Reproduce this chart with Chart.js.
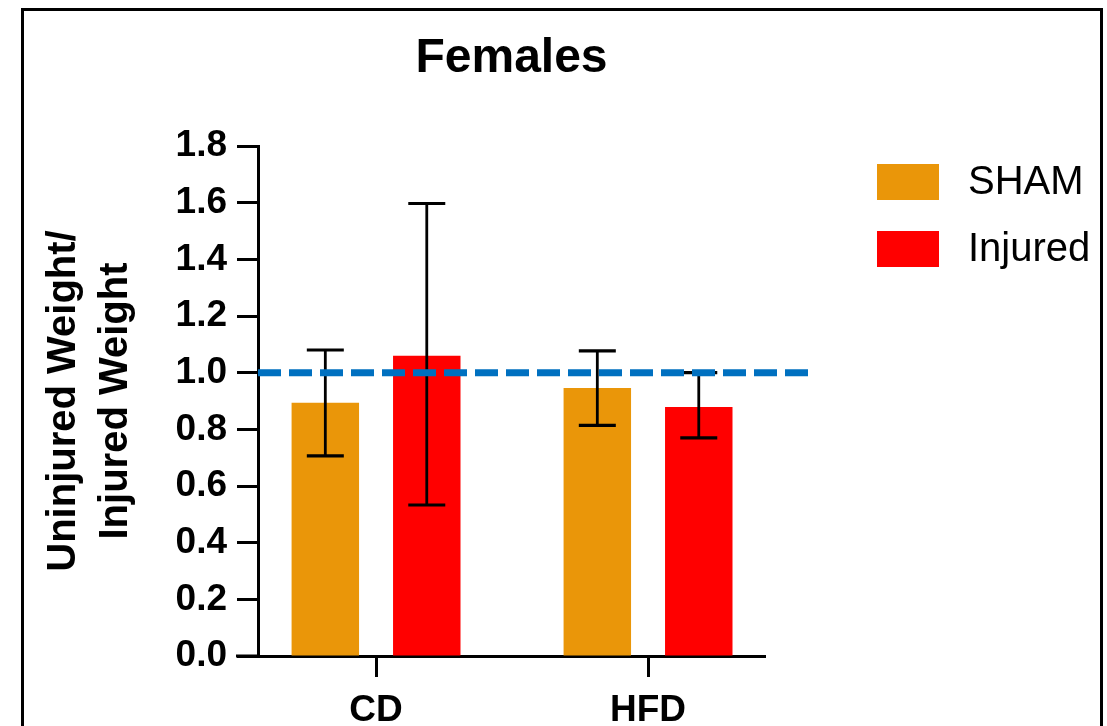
<!DOCTYPE html>
<html><head><meta charset="utf-8">
<script src="https://cdn.jsdelivr.net/npm/chart.js@4.4.1/dist/chart.umd.min.js"></script>
<style>
html,body{margin:0;padding:0;background:#fff;overflow:hidden;}
#wrap{position:relative;width:1107px;height:726px;}
#frame{position:absolute;left:21px;top:8px;width:1082px;height:800px;border:3px solid #000;box-sizing:border-box;pointer-events:none;}
canvas{display:block;}
</style></head><body>
<div id="wrap"><canvas id="c" width="1107" height="726"></canvas><div id="frame"></div></div>
<script>
// ---- data ----
const categories = ['CD', 'HFD'];
const seriesNames = ['SHAM', 'Injured'];
const shamMean = [0.894, 0.946];
const shamLow = [0.706, 0.814];
const shamHigh = [1.080, 1.077];
const injuredMean = [1.060, 0.879];
const injuredLow = [0.533, 0.770];
const injuredHigh = [1.597, 1.000];
const refLevel = 1.0;
const refLineRange = [0.566, 2.603];
const yMin = 0, yMax = 1.8, yStep = 0.2;
const xRange = [0.566, 2.430];
const titleText = 'Females';
const yTitle = ['Uninjured Weight/', 'Injured Weight'];

const FONT = 'Liberation Sans, Arial, Helvetica, sans-serif';
Chart.defaults.font.family = FONT;
Chart.defaults.color = '#000';

const errorBars = {
  id: 'errorBars',
  afterDatasetDraw(chart, args, opts) {
    const ds = chart.data.datasets[args.index];
    if (!ds.errLow) return;
    const ys = chart.scales.y, ctx = chart.ctx;
    ctx.save();
    ctx.strokeStyle = '#000';
    args.meta.data.forEach((bar, i) => {
      const x = bar.x;
      const yl = ys.getPixelForValue(ds.errLow[i]);
      const yh = ys.getPixelForValue(ds.errHigh[i]);
      ctx.lineWidth = opts.lineWidth;
      ctx.beginPath(); ctx.moveTo(x, yl); ctx.lineTo(x, yh); ctx.stroke();
      ctx.lineWidth = opts.capLineWidth;
      ctx.beginPath();
      ctx.moveTo(x - opts.capWidth / 2, yl); ctx.lineTo(x + opts.capWidth / 2, yl);
      ctx.moveTo(x - opts.capWidth / 2, yh); ctx.lineTo(x + opts.capWidth / 2, yh);
      ctx.stroke();
    });
    ctx.restore();
  }
};

const customLegend = {
  id: 'customLegend',
  afterDraw(chart, args, opts) {
    const ctx = chart.ctx;
    ctx.save();
    ctx.font = opts.fontSize + 'px ' + FONT;
    ctx.textBaseline = 'middle';
    ctx.textAlign = 'left';
    let row = 0;
    chart.data.datasets.forEach(ds => {
      if (ds.type === 'line') return;
      const top = opts.top + row * opts.rowStep;
      ctx.fillStyle = ds.backgroundColor;
      ctx.fillRect(opts.boxX, top, opts.boxW, opts.boxH);
      ctx.fillStyle = '#000';
      ctx.fillText(ds.label, opts.textX, top + opts.boxH / 2 + 1);
      row++;
    });
    ctx.restore();
  }
};

const axisExtend = {
  id: 'axisExtend',
  afterDraw(chart, args, opts) {
    const ctx = chart.ctx, a = chart.chartArea;
    ctx.save();
    ctx.strokeStyle = '#000';
    ctx.lineWidth = 3;
    ctx.beginPath();
    ctx.moveTo(a.left - opts.length, a.bottom);
    ctx.lineTo(a.left, a.bottom);
    ctx.stroke();
    ctx.restore();
  }
};

new Chart(document.getElementById('c'), {
  type: 'bar',
  data: {
    datasets: [
      {
        type: 'line',
        label: 'ref',
        data: refLineRange.map(x => ({x: x, y: refLevel})),
        borderColor: '#0070C0',
        borderWidth: 7,
        borderDash: [23, 8],
        pointRadius: 0,
        clip: false,
        order: 0
      },
      {
        label: seriesNames[0],
        data: categories.map((c, i) => ({x: i + 1, y: shamMean[i]})),
        errLow: shamLow, errHigh: shamHigh,
        backgroundColor: '#EA9609',
        categoryPercentage: 0.746,
        barPercentage: 0.665,
        order: 1
      },
      {
        label: seriesNames[1],
        data: categories.map((c, i) => ({x: i + 1, y: injuredMean[i]})),
        errLow: injuredLow, errHigh: injuredHigh,
        backgroundColor: '#FF0000',
        categoryPercentage: 0.746,
        barPercentage: 0.665,
        order: 1
      }
    ]
  },
  options: {
    responsive: false,
    animation: false,
    devicePixelRatio: 1,
    layout: { padding: { left: 25, right: 342, top: 0, bottom: 0 } },
    plugins: {
      legend: { display: false },
      tooltip: { enabled: false },
      title: {
        display: true, text: titleText, fullSize: false,
        font: { size: 48, weight: 'bold', lineHeight: 1.2 },
        color: '#000',
        padding: { top: 30, bottom: 58.4 }
      },
      errorBars: { lineWidth: 2.8, capLineWidth: 3.2, capWidth: 37 },
      customLegend: { boxX: 877, boxW: 62, boxH: 36, top: 164, rowStep: 67, textX: 968, fontSize: 40 },
      axisExtend: { length: 22 }
    },
    scales: {
      x: {
        type: 'linear',
        min: xRange[0], max: xRange[1],
        offset: false,
        afterBuildTicks: (s) => { s.ticks = categories.map((c, i) => ({value: i + 1})); },
        afterFit: (s) => { s.height = 70; },
        ticks: {
          callback: (v) => categories[Math.round(v) - 1],
          font: { size: 37, weight: 'bold' },
          color: '#000', padding: 12, maxRotation: 0, autoSkip: false
        },
        grid: { offset: false, drawOnChartArea: false, drawTicks: true, tickLength: 21, tickWidth: 3, tickColor: '#000' },
        border: { display: true, width: 3, color: '#000' }
      },
      y: {
        min: yMin, max: yMax,
        afterFit: (s) => { s.width = 233; },
        ticks: {
          stepSize: yStep,
          callback: (v) => Number(v).toFixed(1),
          font: { size: 37, weight: 'bold' },
          color: '#000', padding: 10
        },
        title: {
          display: true, text: yTitle,
          font: { size: 40, weight: 'bold', lineHeight: 1.3 },
          color: '#000',
          padding: { top: 13, bottom: 0 }
        },
        grid: { drawOnChartArea: false, drawTicks: true, tickLength: 21, tickWidth: 3, tickColor: '#000' },
        border: { display: true, width: 3, color: '#000' }
      }
    }
  },
  plugins: [errorBars, customLegend, axisExtend]
});
</script>
</body></html>
